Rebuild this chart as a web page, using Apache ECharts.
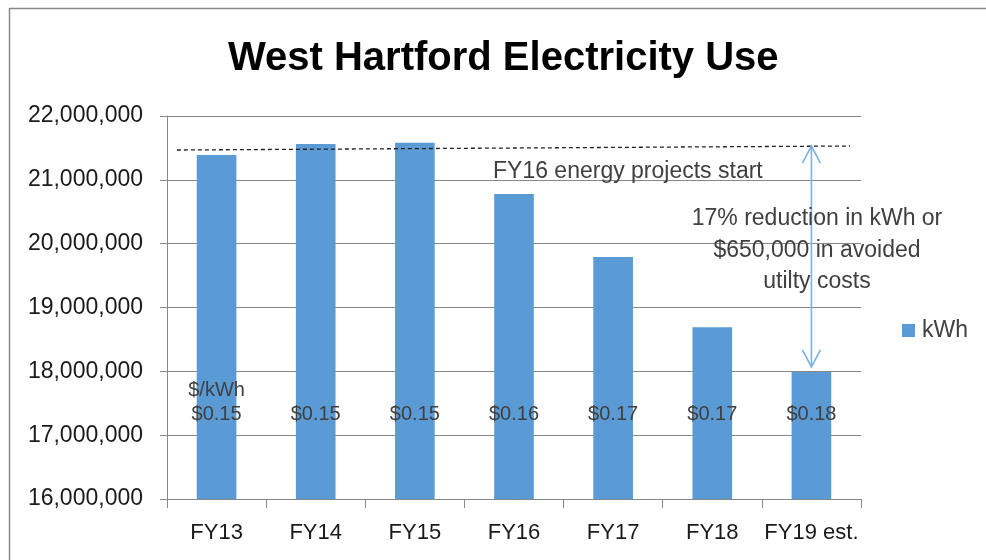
<!DOCTYPE html>
<html>
<head>
<meta charset="utf-8">
<script src="https://cdn.jsdelivr.net/npm/echarts@6/dist/echarts.min.js"></script>
<style>
html,body{margin:0;padding:0;background:#fff;}
#chart{width:986px;height:560px;}
</style>
</head>
<body>
<div id="chart"></div>
<script>
// ---- data ----
const categories = ['FY13', 'FY14', 'FY15', 'FY16', 'FY17', 'FY18', 'FY19 est.'];
const kwh = [21390000, 21560000, 21580000, 20780000, 19790000, 18690000, 17990000];
const prices = ['$0.15', '$0.15', '$0.15', '$0.16', '$0.17', '$0.17', '$0.18'];
const priceHeader = '$/kWh';
const yTicks = { min: 16000000, max: 22000000, interval: 1000000 };
// dashed baseline (x in category units, y in kWh)
const baselineX = [-0.4, 6.39];
const baselineY = [21467000, 21530000];
// reduction arrow (category index, top kWh, bottom kWh)
const arrowCat = 6;
const arrowTop = 21530000;
const arrowBottom = 18068000;
const priceLabelY = 17320000;
const priceHeaderY = 17700000;
const annotationStart = 'FY16 energy projects start';
const annotationReduction = ['17% reduction in kWh or', '$650,000 in avoided', 'utilty costs'];

const FONT = '"Liberation Sans", Arial, sans-serif';
const GREY = '#888888';
const TXT = '#404040';

const chart = echarts.init(document.getElementById('chart'), null, {renderer: 'canvas'});

// price labels drawn as text on the category positions through the scales
const priceItems = prices.map((p, i) => [i, priceLabelY, p]).concat([[0, priceHeaderY, priceHeader]]);

const option = {
  backgroundColor: '#ffffff',
  animation: false,
  tooltip: { show: false },
  axisPointer: { show: false },
  textStyle: { fontFamily: FONT },
  title: {
    text: 'West Hartford Electricity Use',
    left: 223,
    top: 34,
    textStyle: { fontFamily: FONT, fontSize: 40, fontWeight: 'bold', color: '#000' }
  },
  legend: {
    data: ['kWh'],
    left: 897,
    top: 314,
    icon: 'rect',
    itemWidth: 13,
    itemHeight: 13,
    itemGap: 8,
    selectedMode: false,
    textStyle: { fontFamily: FONT, fontSize: 23, color: TXT, padding: [0, 0, 0, 2] }
  },
  grid: { left: 167, right: 125, top: 116, bottom: 61, containLabel: false },
  xAxis: [
    {
      type: 'category',
      data: categories,
      axisLine: { lineStyle: { color: GREY, width: 1 } },
      axisTick: { show: true, length: 9, lineStyle: { color: GREY } },
      axisPointer: { show: false },
      axisLabel: { fontFamily: FONT, fontSize: 22, color: '#1a1a1a', margin: 23, interval: 0, hideOverlap: false }
    },
    {
      type: 'value',
      min: -0.5,
      max: 6.5,
      show: false,
      axisLine: { show: false, onZero: false },
      splitLine: { show: false },
      axisPointer: { show: false }
    }
  ],
  yAxis: {
    type: 'value',
    min: yTicks.min,
    max: yTicks.max,
    interval: yTicks.interval,
    axisPointer: { show: false },
    axisLine: { show: true, onZero: false, lineStyle: { color: GREY } },
    axisTick: { show: true, length: 7, lineStyle: { color: GREY } },
    splitLine: { lineStyle: { color: GREY, width: 1 } },
    axisLabel: {
      fontFamily: FONT, fontSize: 23, color: '#1a1a1a', margin: 24,
      formatter: v => v.toLocaleString('en-US')
    }
  },
  series: [
    {
      name: 'kWh',
      type: 'bar',
      data: kwh,
      barWidth: '40%',
      itemStyle: { color: '#5B9BD5' },
      emphasis: { disabled: true },
      z: 2
    },
    {
      name: 'prices',
      type: 'custom',
      xAxisIndex: 1,
      silent: true,
      z: 5,
      data: priceItems,
      renderItem: function (params, api) {
        const p = api.coord([api.value(0), api.value(1)]);
        return {
          type: 'text',
          x: p[0], y: p[1],
          style: {
            text: priceItems[params.dataIndex][2],
            font: '20px ' + FONT, fill: TXT,
            align: 'center', verticalAlign: 'middle'
          }
        };
      }
    },
    {
      name: 'baseline',
      type: 'line',
      xAxisIndex: 1,
      data: baselineX.map((x, i) => [x, baselineY[i]]),
      symbol: 'none',
      silent: true,
      z: 6,
      emphasis: { disabled: true },
      lineStyle: { color: '#222222', width: 1.3, type: [4, 3] }
    },
    {
      name: 'arrow',
      type: 'custom',
      xAxisIndex: 1,
      silent: true,
      z: 7,
      data: [[arrowCat, arrowTop, arrowBottom]],
      renderItem: function (params, api) {
        const top = api.coord([api.value(0), api.value(1)]);
        const bot = api.coord([api.value(0), api.value(2)]);
        const hw = 9, hl = 17;
        const style = { stroke: '#7EB0E2', lineWidth: 1.6, fill: 'none' };
        return {
          type: 'group',
          children: [
            { type: 'line', shape: { x1: top[0], y1: top[1], x2: bot[0], y2: bot[1] }, style: style },
            { type: 'polyline', shape: { points: [[top[0] - hw, top[1] + hl], [top[0], top[1]], [top[0] + hw, top[1] + hl]] }, style: style },
            { type: 'polyline', shape: { points: [[bot[0] - hw, bot[1] - hl], [bot[0], bot[1]], [bot[0] + hw, bot[1] - hl]] }, style: style }
          ]
        };
      }
    }
  ],
  graphic: [
    { type: 'line', shape: { x1: 9, y1: 8.5, x2: 986, y2: 8.5 }, style: { stroke: '#8a8a8a', lineWidth: 1.5 }, z: 10 },
    { type: 'line', shape: { x1: 9.5, y1: 8, x2: 9.5, y2: 560 }, style: { stroke: '#8a8a8a', lineWidth: 1.5 }, z: 10 },
    {
      type: 'text', left: 493, top: 160, z: 10,
      style: { text: annotationStart, font: '23px ' + FONT, fill: TXT }
    },
    {
      type: 'text', x: 817, y: 203, z: 10,
      style: {
        text: annotationReduction.join('\n'),
        font: '23px ' + FONT, fill: TXT, align: 'center', lineHeight: 31.5
      }
    }
  ]
};

chart.setOption(option);
</script>
</body>
</html>
